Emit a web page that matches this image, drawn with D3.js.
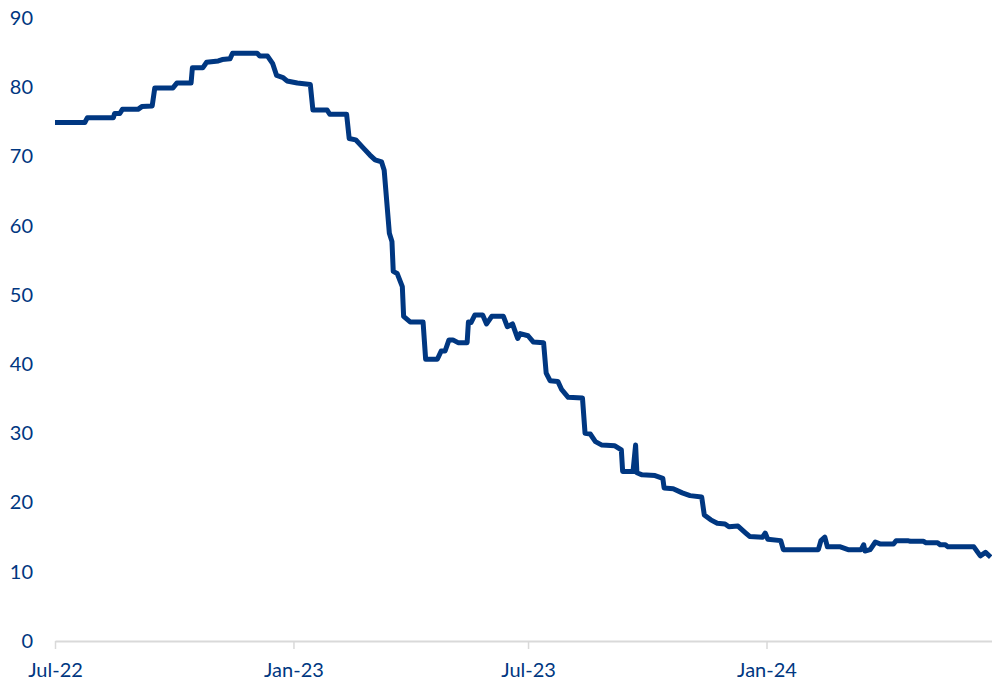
<!DOCTYPE html>
<html>
<head>
<meta charset="utf-8">
<script src="https://cdn.jsdelivr.net/npm/d3@7"></script>
<style>
  body { margin: 0; background: #fff; }
</style>
</head>
<body>
<div id="chart"></div>
<script>
// dates and values
var dates = [
  "2022-07-01","2022-07-24","2022-07-26","2022-08-15","2022-08-16","2022-08-20","2022-08-22","2022-09-03",
  "2022-09-06","2022-09-14","2022-09-16","2022-09-30","2022-10-03","2022-10-14","2022-10-15","2022-10-23",
  "2022-10-26","2022-11-04","2022-11-07","2022-11-13","2022-11-15","2022-12-04","2022-12-06","2022-12-12",
  "2022-12-16","2022-12-19","2022-12-24","2022-12-27","2023-01-04","2023-01-14","2023-01-16","2023-01-27",
  "2023-01-29","2023-02-11","2023-02-13","2023-02-18","2023-02-24","2023-03-01","2023-03-05","2023-03-10",
  "2023-03-12","2023-03-16","2023-03-18","2023-03-19","2023-03-22","2023-03-26","2023-03-27","2023-04-01",
  "2023-04-11","2023-04-13","2023-04-22","2023-04-25","2023-04-28","2023-05-01","2023-05-04","2023-05-08",
  "2023-05-15","2023-05-16","2023-05-18","2023-05-21","2023-05-27","2023-05-30","2023-06-03","2023-06-12",
  "2023-06-15","2023-06-19","2023-06-23","2023-06-25","2023-07-01","2023-07-05","2023-07-13","2023-07-15",
  "2023-07-18","2023-07-24","2023-07-27","2023-08-01","2023-08-12","2023-08-14","2023-08-18","2023-08-22",
  "2023-08-27","2023-09-06","2023-09-11","2023-09-12","2023-09-20","2023-09-22","2023-09-23","2023-09-27",
  "2023-10-07","2023-10-13","2023-10-14","2023-10-21","2023-10-28","2023-11-03","2023-11-12","2023-11-14",
  "2023-11-19","2023-11-24","2023-11-30","2023-12-03","2023-12-10","2023-12-16","2023-12-19","2023-12-29",
  "2023-12-31","2024-01-02","2024-01-12","2024-01-14","2024-02-10","2024-02-12","2024-02-15","2024-02-17",
  "2024-02-27","2024-03-04","2024-03-14","2024-03-16","2024-03-17","2024-03-21","2024-03-25","2024-03-29",
  "2024-04-08","2024-04-10","2024-04-19","2024-04-21","2024-05-01","2024-05-03","2024-05-12","2024-05-14",
  "2024-05-18","2024-05-20","2024-06-09","2024-06-14","2024-06-18","2024-06-22"
];
var values = [
  74.9,74.9,75.6,75.6,76.2,76.2,76.8,76.8,
  77.2,77.3,79.9,79.9,80.6,80.6,82.8,82.8,
  83.6,83.8,84.0,84.1,84.9,84.9,84.5,84.5,
  83.4,81.7,81.4,80.9,80.6,80.4,76.7,76.7,
  76.1,76.1,72.6,72.4,71.2,70.2,69.5,69.2,
  68.0,58.9,57.7,53.4,53.1,51.2,46.9,46.1,
  46.1,40.7,40.7,41.9,41.9,43.5,43.5,43.1,
  43.1,46.1,46.0,47.1,47.1,45.8,46.9,46.9,
  45.4,45.8,43.7,44.4,44.1,43.2,43.1,38.7,
  37.6,37.5,36.3,35.2,35.1,30.0,29.9,28.8,
  28.3,28.2,27.6,24.5,24.5,28.3,24.3,24.0,
  23.9,23.5,22.1,22.0,21.4,21.0,20.8,18.2,
  17.5,17.0,16.9,16.5,16.6,15.6,15.1,15.0,
  15.6,14.7,14.5,13.2,13.2,14.5,15.0,13.6,
  13.6,13.2,13.2,13.9,13.0,13.2,14.3,14.0,
  14.0,14.5,14.5,14.4,14.4,14.2,14.2,13.9,
  13.9,13.6,13.6,12.3,12.8,12.1
];
var yTicks = [0, 10, 20, 30, 40, 50, 60, 70, 80, 90];
var xStart = "2022-07-01", xEnd = "2024-06-23";

var widthSvg = 992, heightSvg = 686;
var margin = {top: 18, right: 0, bottom: 45, left: 55};
var blue = "#003781";

var parse = d3.timeParse("%Y-%m-%d");
var data = dates.map(function(d, i) { return {date: parse(d), value: values[i]}; });

var svg = d3.select("#chart").append("svg")
    .attr("width", widthSvg)
    .attr("height", heightSvg);

var x = d3.scaleTime()
    .domain([parse(xStart), parse(xEnd)])
    .range([margin.left, widthSvg - margin.right]);
var y = d3.scaleLinear()
    .domain([0, 90])
    .range([heightSvg - margin.bottom, margin.top]);

// x axis
var gx = svg.append("g")
    .attr("transform", "translate(0," + y(0) + ")")
    .call(d3.axisBottom(x)
      .ticks(d3.timeMonth.every(6))
      .tickFormat(d3.timeFormat("%b-%y"))
      .tickSize(8)
      .tickPadding(14)
      .tickSizeOuter(0));
gx.select(".domain").attr("stroke", "#d9d9d9").attr("stroke-width", 2);
gx.selectAll(".tick line").attr("stroke", "#d9d9d9").attr("stroke-width", 1.5);

// y axis, labels only
var gy = svg.append("g")
    .attr("transform", "translate(" + margin.left + ",0)")
    .call(d3.axisLeft(y).tickValues(yTicks).tickSize(0).tickPadding(22));
gy.select(".domain").remove();

svg.selectAll(".tick text")
    .attr("font-family", "Lato, 'Noto Sans', sans-serif")
    .attr("font-size", 20)
    .attr("fill", blue);

var line = d3.line()
    .x(function(d) { return x(d.date); })
    .y(function(d) { return y(d.value); });

svg.append("path")
    .datum(data)
    .attr("fill", "none")
    .attr("stroke", blue)
    .attr("stroke-width", 5)
    .attr("stroke-linejoin", "round")
    .attr("stroke-linecap", "butt")
    .attr("d", line);
</script>
</body>
</html>
